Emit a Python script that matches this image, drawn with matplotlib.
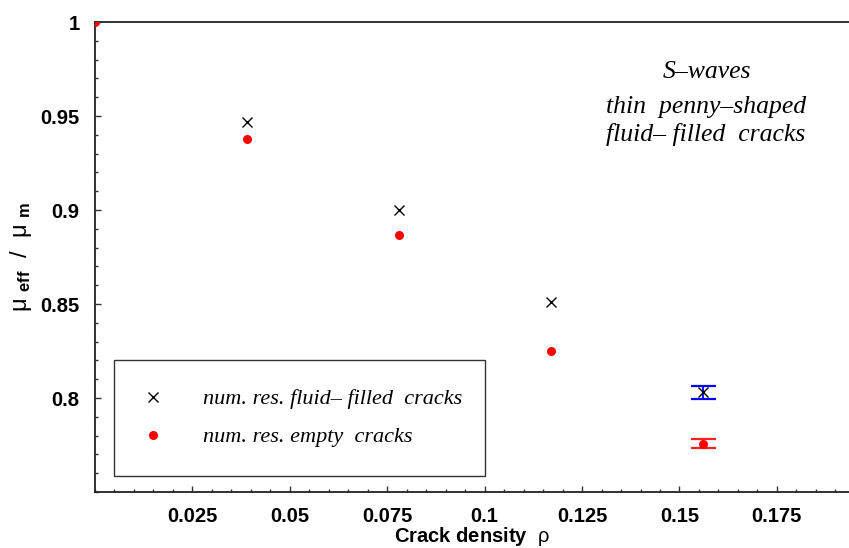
import matplotlib
matplotlib.use("Agg")
import matplotlib.pyplot as plt
from matplotlib.ticker import MultipleLocator, FixedLocator, FixedFormatter
from matplotlib.lines import Line2D

plt.rcParams['font.family'] = ['Liberation Sans', 'DejaVu Sans']
plt.rcParams['mathtext.fontset'] = 'custom'
plt.rcParams['mathtext.rm'] = 'Liberation Sans'
plt.rcParams['mathtext.bf'] = 'Liberation Sans:bold'
plt.rcParams['mathtext.it'] = 'Liberation Sans:italic'

# data
rho = [0.039, 0.078, 0.117, 0.156]
fluid = [0.9467, 0.9000, 0.8510, 0.8030]
empty_rho = [0.0, 0.039, 0.078, 0.117, 0.156]
empty = [1.0, 0.9378, 0.8865, 0.8250, 0.7757]
err_fluid = 0.0035
err_empty = 0.0023
xticks = [0.025, 0.05, 0.075, 0.1, 0.125, 0.15, 0.175]
xticklabels = ['0.025', '0.05', '0.075', '0.1', '0.125', '0.15', '0.175']
yticks = [0.8, 0.85, 0.9, 0.95, 1.0]
yticklabels = ['0.8', '0.85', '0.9', '0.95', '1']

fig = plt.figure(figsize=(8.49, 5.48), dpi=100)
W, H = 849, 548
ax = fig.add_axes([95 / W, (548 - 492) / H, (849 - 95) / W, 470 / H])
ax.set_xlim(0, 0.1935)
ax.set_ylim(0.75, 1.0)

# error bars for last points
ax.errorbar([rho[-1]], [fluid[-1]], yerr=[err_fluid], fmt='none', ecolor='#0000ff',
            elinewidth=1.3, capsize=9, capthick=1.6, zorder=2)
ax.errorbar([empty_rho[-1]], [empty[-1]], yerr=[err_empty], fmt='none', ecolor='#ff2020',
            elinewidth=1.3, capsize=9, capthick=1.6, zorder=2)

ax.plot(rho, fluid, linestyle='none', marker='x', color='black', markersize=6.5,
        markeredgewidth=1.0, zorder=3)
ax.plot(empty_rho, empty, linestyle='none', marker='o', color='#ff0000', markersize=6.5,
        markeredgewidth=0, zorder=3)

for s in ['left', 'bottom', 'top']:
    ax.spines[s].set_linewidth(1.3)
    ax.spines[s].set_color('#222222')
ax.spines['right'].set_visible(False)

ax.xaxis.set_major_locator(FixedLocator(xticks))
ax.xaxis.set_major_formatter(FixedFormatter(xticklabels))
ax.xaxis.set_minor_locator(MultipleLocator(0.005))
ax.yaxis.set_major_locator(FixedLocator(yticks))
ax.yaxis.set_major_formatter(FixedFormatter(yticklabels))
ax.yaxis.set_minor_locator(MultipleLocator(0.01))
ax.tick_params(which='both', direction='in', color='#333333', width=1.0,
               top=False, right=False, labelsize=14.5)
ax.tick_params(which='major', length=4.5)
ax.tick_params(which='minor', length=2.5)
ax.tick_params(axis='x', which='major', pad=11)
ax.tick_params(axis='y', which='major', pad=11)
for lab in ax.get_xticklabels() + ax.get_yticklabels():
    lab.set_fontweight('bold')

ax.set_xlabel(r'Crack density  $\mathrm{\rho}$', fontsize=14.5, fontweight='bold', labelpad=-1)
ax.set_ylabel(r'$\mathrm{\mu}\ _{\mathbf{eff}}\ \ \mathrm{/}\ \ \mathrm{\mu}\ _{\mathbf{m}}$',
              fontsize=17, labelpad=5)

serif = dict(family=['Liberation Serif', 'DejaVu Serif'], style='italic', fontsize=18.5)
ax.text(0.812, 0.894, 'S–waves', transform=ax.transAxes, ha='center', va='center', **serif)
ax.text(0.810, 0.819, 'thin  penny–shaped', transform=ax.transAxes, ha='center', va='center', **serif)
ax.text(0.810, 0.760, 'fluid– filled  cracks', transform=ax.transAxes, ha='center', va='center', **serif)

handles = [Line2D([], [], linestyle='none', marker='x', color='black', markersize=6.5, markeredgewidth=1.0),
           Line2D([], [], linestyle='none', marker='o', color='#ff0000', markersize=6.5, markeredgewidth=0)]
leg = ax.legend(handles, ['num. res. fluid– filled  cracks', 'num. res. empty  cracks'],
                loc='upper left', bbox_to_anchor=((114 - 95) / 754, (492 - 472) / 470,
                                                  (485 - 114) / 754, (472 - 360) / 470),
                mode='expand', frameon=True, fancybox=False, edgecolor='black',
                borderpad=1.3, labelspacing=0.78, handletextpad=1.8, handlelength=0.91,
                borderaxespad=0, prop=dict(family='Liberation Serif', style='italic', size=16))
leg.get_frame().set_linewidth(1.0)

fig.savefig('out.png', dpi=100)
